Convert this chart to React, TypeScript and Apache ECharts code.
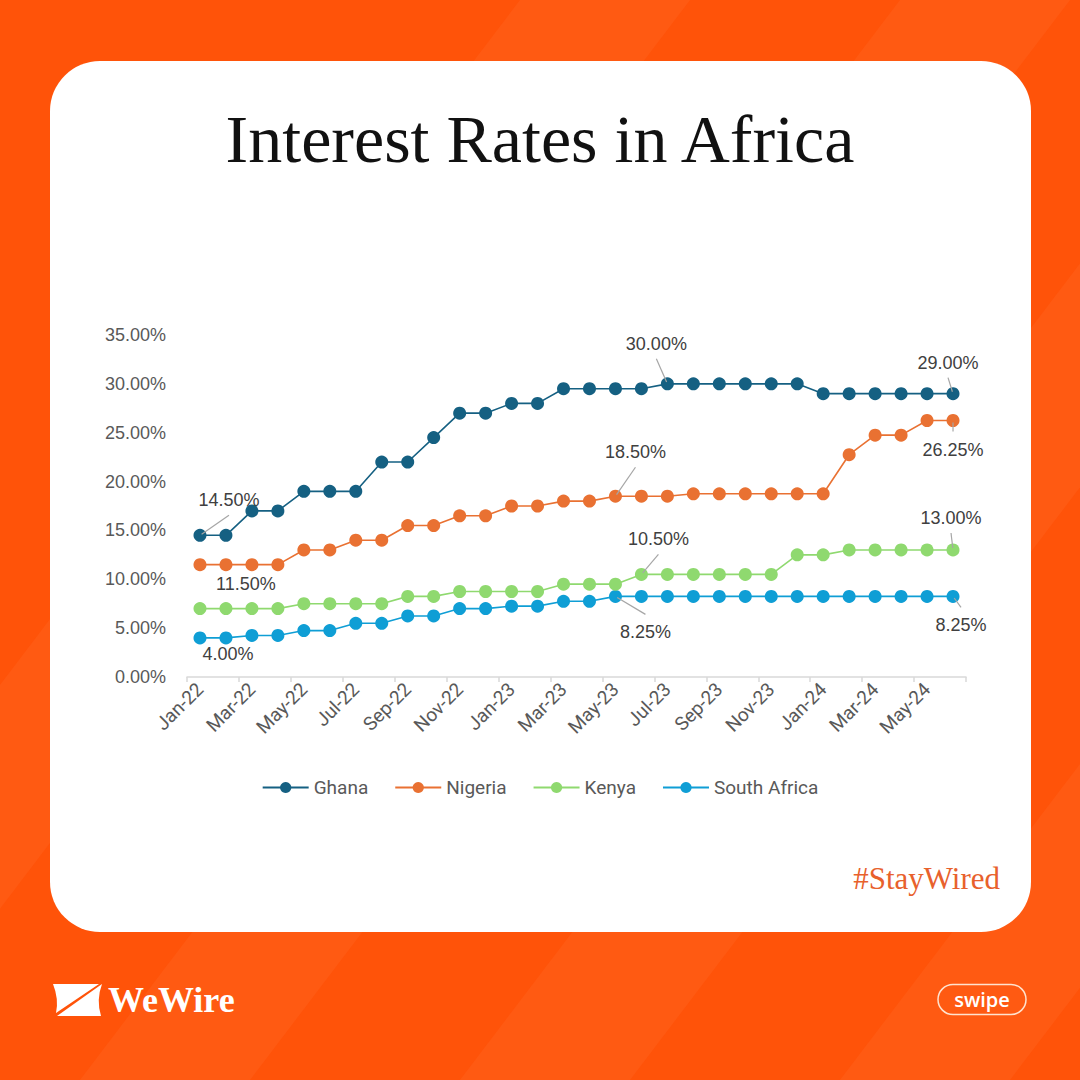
import React, { useEffect, useRef } from "react";
import * as echarts from "echarts";

const categories = [
  "Jan-22", "Feb-22", "Mar-22", "Apr-22", "May-22", "Jun-22", "Jul-22", "Aug-22", "Sep-22", "Oct-22", "Nov-22", "Dec-22",
  "Jan-23", "Feb-23", "Mar-23", "Apr-23", "May-23", "Jun-23", "Jul-23", "Aug-23", "Sep-23", "Oct-23", "Nov-23", "Dec-23",
  "Jan-24", "Feb-24", "Mar-24", "Apr-24", "May-24", "Jun-24",
];

const ghana = [14.5, 14.5, 17, 17, 19, 19, 19, 22, 22, 24.5, 27, 27, 28, 28, 29.5, 29.5, 29.5, 29.5, 30, 30, 30, 30, 30, 30, 29, 29, 29, 29, 29, 29];
const nigeria = [11.5, 11.5, 11.5, 11.5, 13, 13, 14, 14, 15.5, 15.5, 16.5, 16.5, 17.5, 17.5, 18, 18, 18.5, 18.5, 18.5, 18.75, 18.75, 18.75, 18.75, 18.75, 18.75, 22.75, 24.75, 24.75, 26.25, 26.25];
const kenya = [7, 7, 7, 7, 7.5, 7.5, 7.5, 7.5, 8.25, 8.25, 8.75, 8.75, 8.75, 8.75, 9.5, 9.5, 9.5, 10.5, 10.5, 10.5, 10.5, 10.5, 10.5, 12.5, 12.5, 13, 13, 13, 13, 13];
const southAfrica = [4, 4, 4.25, 4.25, 4.75, 4.75, 5.5, 5.5, 6.25, 6.25, 7, 7, 7.25, 7.25, 7.75, 7.75, 8.25, 8.25, 8.25, 8.25, 8.25, 8.25, 8.25, 8.25, 8.25, 8.25, 8.25, 8.25, 8.25, 8.25];

const seriesNames = ["Ghana", "Nigeria", "Kenya", "South Africa"];
const seriesValues = [ghana, nigeria, kenya, southAfrica];
const yTicks = [0, 5, 10, 15, 20, 25, 30, 35];

// which points carry a data label (series index, data index)
const labelledPoints: [number, number][] = [
  [0, 0], [0, 18], [0, 29],
  [1, 0], [1, 16], [1, 29],
  [2, 17], [2, 29],
  [3, 0], [3, 16], [3, 29],
];

// label placement (styling): offset of label centre from point centre, and whether a leader line is drawn
const labelPlacement: Record<string, { dx: number; dy: number; line: boolean }> = {
  "0-0": { dx: 29, dy: -35, line: true },
  "0-18": { dx: -11, dy: -40, line: true },
  "0-29": { dx: -5, dy: -31, line: true },
  "1-0": { dx: 46, dy: 19, line: false },
  "1-16": { dx: 20, dy: -44, line: true },
  "1-29": { dx: 0, dy: 29, line: true },
  "2-17": { dx: 17, dy: -35, line: true },
  "2-29": { dx: -2, dy: -32, line: true },
  "3-0": { dx: 28, dy: 16, line: false },
  "3-16": { dx: 30, dy: 36, line: true },
  "3-29": { dx: 8, dy: 29, line: true },
};

const colors = ["#156082", "#E97132", "#8FD96F", "#0F9ED5"];
const NARROW = "'Liberation Sans Narrow', Roboto, sans-serif";
const SANS = "'Liberation Sans', Arial, sans-serif";
const SERIF = "'Liberation Serif', 'Times New Roman', serif";

echarts.graphic.registerShape(
  "wwTop",
  echarts.graphic.extendPath("M53,984 L99,984 L56,1013 Q59,999 53,984 Z", {})
);
echarts.graphic.registerShape(
  "wwBottom",
  echarts.graphic.extendPath("M102,984 Q96,1000 101,1016 L57,1016 Z", {})
);

export default function App() {
  const ref = useRef<HTMLDivElement>(null);

  useEffect(() => {
    if (!ref.current) return;
    const chart = echarts.init(ref.current, undefined, { renderer: "svg" });

    const stripes: any[] = [];
    const stripeStarts = [-300, 80, 460, 840, 1220];
    stripeStarts.forEach((sx) => {
      stripes.push({
        type: "polygon",
        z: -19,
        silent: true,
        shape: { points: [[sx, 1080], [sx + 170, 1080], [sx + 170 + 820, 0], [sx + 820, 0]] },
        style: { fill: "#FF6826", opacity: 0.35 },
      });
    });

    const baseGraphics: any[] = [
      { type: "rect", z: -20, silent: true, shape: { x: 0, y: 0, width: 1080, height: 1080 }, style: { fill: "#FF5309" } },
      ...stripes,
      { type: "rect", z: -18, silent: true, shape: { x: 50, y: 61, width: 981, height: 871, r: 50 }, style: { fill: "#FFFFFF" } },
      {
        type: "text", z: -17, x: 540, y: 139,
        style: { text: "Interest Rates in Africa", fontFamily: SERIF, fontSize: 68, fill: "#111111", align: "center", verticalAlign: "middle" },
      },
      {
        type: "text", z: -17, x: 1000, y: 878,
        style: { text: "#StayWired", fontFamily: SERIF, fontSize: 31, fill: "#E8612C", align: "right", verticalAlign: "middle" },
      },
      { type: "wwTop", z: -17, x: 0, y: 0, style: { fill: "#FFFFFF" } },
      { type: "wwBottom", z: -17, x: 0, y: 0, style: { fill: "#FFFFFF" } },
      {
        type: "text", z: -17, x: 108, y: 1000,
        style: { text: "WeWire", fontFamily: SERIF, fontSize: 36, fontWeight: "bold", fill: "#FFFFFF", align: "left", verticalAlign: "middle" },
      },
      {
        type: "rect", z: -17, shape: { x: 938, y: 984.5, width: 88, height: 30, r: 15 },
        style: { fill: "transparent", stroke: "#FFE3CF", lineWidth: 1.5 },
      },
      {
        type: "text", z: -17, x: 982, y: 999,
        style: { text: "swipe", fontFamily: "'Open Sans', sans-serif", fontSize: 20, fontWeight: 600, fill: "#FFFFFF", align: "center", verticalAlign: "middle" },
      },
    ];

    const series = seriesNames.map((name, si) => ({
      type: "line",
      name,
      data: seriesValues[si].map((v, i) => {
        const isLabelled = labelledPoints.some(([s, d]) => s === si && d === i);
        if (!isLabelled) return v;
        return { value: v, label: { show: true } };
      }),
      symbol: "circle",
      symbolSize: 13,
      itemStyle: { color: colors[si] },
      lineStyle: { color: colors[si], width: 1.6 },
      label: {
        show: false,
        position: "inside",
        formatter: (p: any) => Number(p.value).toFixed(2) + "%",
        fontFamily: SANS,
        fontSize: 18,
        color: "#404040",
      },
      labelLayout: (params: any) => {
        const p = labelPlacement[`${si}-${params.dataIndex}`];
        return p ? { dx: p.dx, dy: p.dy } : {};
      },
      emphasis: { disabled: true },
      z: 3 + (3 - si),
    }));

    chart.setOption({
      animation: false,
      backgroundColor: "transparent",
      graphic: { elements: baseGraphics },
      grid: { left: 187, right: 114, top: 335, bottom: 403, containLabel: false },
      legend: {
        data: seriesNames,
        left: "center",
        top: 773,
        itemWidth: 46,
        itemHeight: 14,
        itemGap: 26,
        textStyle: { fontFamily: NARROW, fontSize: 19, color: "#595959" },
      },
      xAxis: {
        type: "category",
        data: categories,
        boundaryGap: true,
        axisLine: { lineStyle: { color: "#D9D9D9", width: 1.5 } },
        axisTick: { show: true, interval: 1, length: 5, lineStyle: { color: "#D9D9D9", width: 1.5 } },
        axisLabel: { interval: 1, rotate: 45, margin: 9, fontFamily: NARROW, fontSize: 19, color: "#595959" },
        splitLine: { show: false },
      },
      yAxis: {
        type: "value",
        min: yTicks[0],
        max: yTicks[yTicks.length - 1],
        interval: 5,
        axisLine: { show: false },
        axisTick: { show: false },
        splitLine: { show: false },
        axisLabel: { formatter: (v: number) => v.toFixed(2) + "%", fontFamily: SANS, fontSize: 18, color: "#595959", margin: 21 },
      },
      series,
    });

    // leader lines from each labelled point to its label, positioned through the chart's own scales
    const leaders: any[] = [];
    labelledPoints.forEach(([si, i]) => {
      const p = labelPlacement[`${si}-${i}`];
      if (!p || !p.line) return;
      const pt = chart.convertToPixel({ seriesIndex: si }, [i, seriesValues[si][i]]) as number[];
      if (!pt) return;
      const [cx, cy] = pt;
      const lx = cx + p.dx;
      const ly = cy + p.dy + (p.dy < 0 ? 15 : -18);
      const len = Math.hypot(lx - cx, ly - cy) || 1;
      const sx = cx + ((lx - cx) / len) * 2;
      const sy = cy + ((ly - cy) / len) * 2;
      leaders.push({
        type: "line",
        z: 50,
        silent: true,
        shape: { x1: sx, y1: sy, x2: lx, y2: ly },
        style: { stroke: "#A6A6A6", lineWidth: 1.2 },
      });
    });
    chart.setOption({ graphic: { elements: [...baseGraphics, ...leaders] } });

    return () => chart.dispose();
  }, []);

  return <div ref={ref} style={{ position: "absolute", left: 0, top: 0, width: 1080, height: 1080 }} />;
}
